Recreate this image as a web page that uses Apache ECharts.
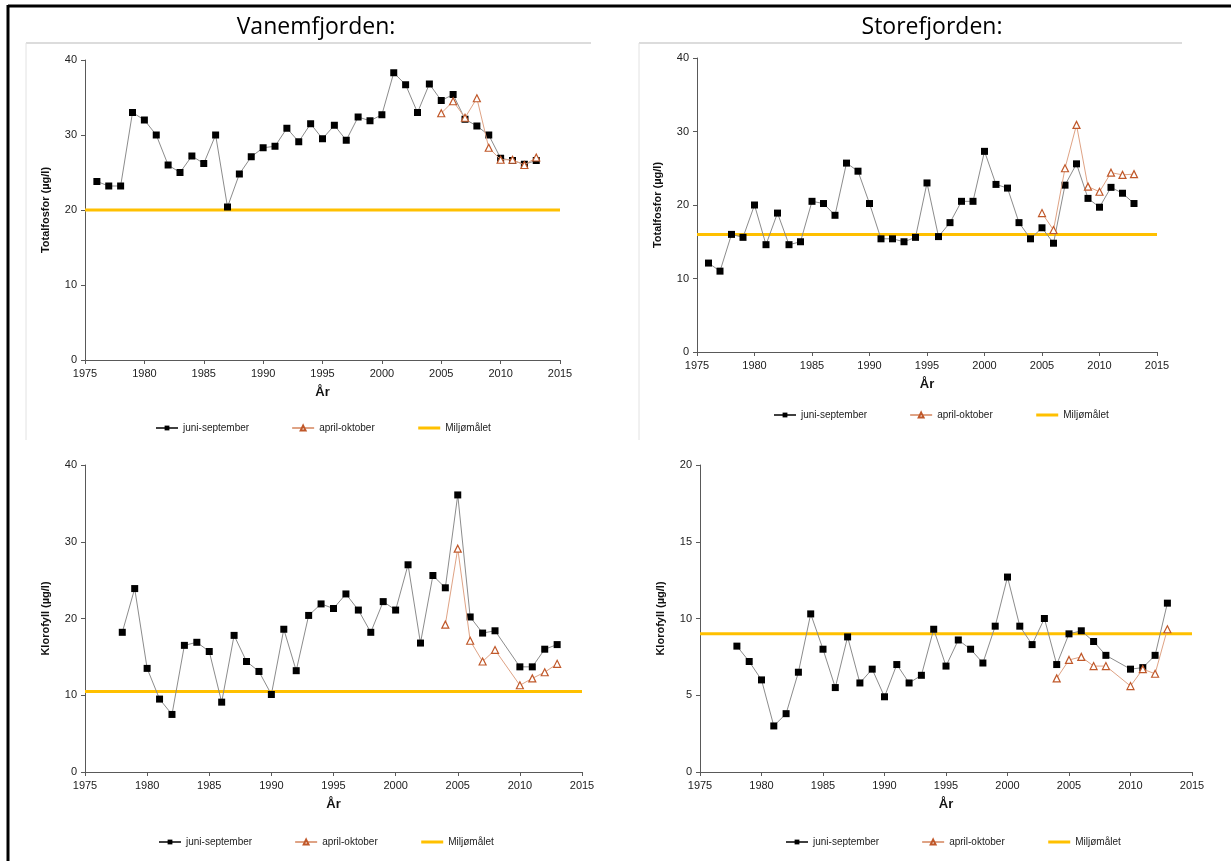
<!DOCTYPE html>
<html><head><meta charset="utf-8">
<script src="https://cdn.jsdelivr.net/npm/echarts@6/dist/echarts.min.js"></script>
<style>html,body{margin:0;padding:0;background:#fff}#c{width:1231px;height:861px}</style>
</head><body><div id="c"></div>
<script>
// ---- Data ----
const panelTitles = ['Vanemfjorden:', 'Storefjorden:'];
const seriesNames = ['juni-september', 'april-oktober', 'Miljømålet'];
const xTicks = [1975, 1980, 1985, 1990, 1995, 2000, 2005, 2010, 2015];

// Vanemfjorden totalfosfor
const vanTPYears = [1976,1977,1978,1979,1980,1981,1982,1983,1984,1985,1986,1987,1988,1989,1990,1991,1992,1993,1994,1995,1996,1997,1998,1999,2000,2001,2002,2003,2004,2005,2006,2007,2008,2009,2010,2011,2012,2013];
const vanTPJuniSep = [23.8,23.2,23.2,33.0,32.0,30.0,26.0,25.0,27.2,26.2,30.0,20.4,24.8,27.1,28.3,28.5,30.9,29.1,31.5,29.5,31.3,29.3,32.4,31.9,32.7,38.3,36.7,33.0,36.8,34.6,35.4,32.1,31.2,30.0,26.9,26.6,26.1,26.6];
const vanTPAprYears = [2005,2006,2007,2008,2009,2010,2011,2012,2013];
const vanTPAprOkt = [32.9,34.5,32.3,34.9,28.3,26.7,26.7,26.0,27.0];
const vanTPGoal = 20;

// Storefjorden totalfosfor
const stoTPYears = [1976,1977,1978,1979,1980,1981,1982,1983,1984,1985,1986,1987,1988,1989,1990,1991,1992,1993,1994,1995,1996,1997,1998,1999,2000,2001,2002,2003,2004,2005,2006,2007,2008,2009,2010,2011,2012,2013];
const stoTPJuniSep = [12.1,11.0,16.0,15.6,20.0,14.6,18.9,14.6,15.0,20.5,20.2,18.6,25.7,24.6,20.2,15.4,15.4,15.0,15.6,23.0,15.7,17.6,20.5,20.5,27.3,22.8,22.3,17.6,15.4,16.9,14.8,22.7,25.6,20.9,19.7,22.4,21.6,20.2];
const stoTPAprYears = [2005,2006,2007,2008,2009,2010,2011,2012,2013];
const stoTPAprOkt = [18.9,16.6,25.0,30.9,22.5,21.8,24.4,24.1,24.2];
const stoTPGoal = 16;

// Vanemfjorden klorofyll
const vanKlYears = [1978,1979,1980,1981,1982,1983,1984,1985,1986,1987,1988,1989,1990,1991,1992,1993,1994,1995,1996,1997,1998,1999,2000,2001,2002,2003,2004,2005,2006,2007,2008,2010,2011,2012,2013];
const vanKlJuniSep = [18.2,23.9,13.5,9.5,7.5,16.5,16.9,15.7,9.1,17.8,14.4,13.1,10.1,18.6,13.2,20.4,21.9,21.3,23.2,21.1,18.2,22.2,21.1,27.0,16.8,25.6,24.0,36.1,20.2,18.1,18.4,13.7,13.7,16.0,16.6];
const vanKlAprYears = [2004,2005,2006,2007,2008,2010,2011,2012,2013];
const vanKlAprOkt = [19.2,29.1,17.1,14.4,15.9,11.3,12.2,13.0,14.1];
const vanKlGoal = 10.5;

// Storefjorden klorofyll
const stoKlYears = [1978,1979,1980,1981,1982,1983,1984,1985,1986,1987,1988,1989,1990,1991,1992,1993,1994,1995,1996,1997,1998,1999,2000,2001,2002,2003,2004,2005,2006,2007,2008,2010,2011,2012,2013];
const stoKlJuniSep = [8.2,7.2,6.0,3.0,3.8,6.5,10.3,8.0,5.5,8.8,5.8,6.7,4.9,7.0,5.8,6.3,9.3,6.9,8.6,8.0,7.1,9.5,12.7,9.5,8.3,10.0,7.0,9.0,9.2,8.5,7.6,6.7,6.8,7.6,11.0];
const stoKlAprYears = [2004,2005,2006,2007,2008,2010,2011,2012,2013];
const stoKlAprOkt = [6.1,7.3,7.5,6.9,6.9,5.6,6.7,6.4,9.3];
const stoKlGoal = 9;

// ---- Chart ----
const FONT = "'Liberation Sans', Arial, sans-serif";
const zip = (xs, ys) => xs.map((x, i) => [x, ys[i]]);

const panels = [
  { grid: {left: 85, top: 60, width: 475, height: 300}, yName: 'Totalfosfor (µg/l)', yMax: 40, yInt: 10,
    js: zip(vanTPYears, vanTPJuniSep), ao: zip(vanTPAprYears, vanTPAprOkt), goal: vanTPGoal, legend: {left: 150, top: 418} },
  { grid: {left: 697, top: 58, width: 460, height: 294}, yName: 'Totalfosfor (µg/l)', yMax: 40, yInt: 10,
    js: zip(stoTPYears, stoTPJuniSep), ao: zip(stoTPAprYears, stoTPAprOkt), goal: stoTPGoal, legend: {left: 768, top: 405} },
  { grid: {left: 85, top: 465, width: 497, height: 307}, yName: 'Klorofyll (µg/l)', yMax: 40, yInt: 10,
    js: zip(vanKlYears, vanKlJuniSep), ao: zip(vanKlAprYears, vanKlAprOkt), goal: vanKlGoal, legend: {left: 153, top: 832} },
  { grid: {left: 700, top: 465, width: 492, height: 307}, yName: 'Klorofyll (µg/l)', yMax: 20, yInt: 5,
    js: zip(stoKlYears, stoKlJuniSep), ao: zip(stoKlAprYears, stoKlAprOkt), goal: stoKlGoal, legend: {left: 780, top: 832} }
];

const axisLineStyle = {color: '#595959', width: 1};
const option = {
  animation: false,
  backgroundColor: '#fff',
  grid: [], xAxis: [], yAxis: [], series: [], legend: [],
  graphic: []
};

panels.forEach((p, i) => {
  option.grid.push(Object.assign({containLabel: false}, p.grid));
  option.xAxis.push({
    type: 'value', gridIndex: i, min: xTicks[0], max: xTicks[xTicks.length - 1], interval: 5,
    name: 'År', nameLocation: 'middle', nameGap: 26,
    nameTextStyle: {fontFamily: FONT, fontSize: 13, fontWeight: 'bold', color: '#111'},
    axisLine: {show: true, lineStyle: axisLineStyle, onZero: false},
    axisTick: {show: true, length: 4, lineStyle: axisLineStyle},
    axisLabel: {fontFamily: FONT, fontSize: 11, color: '#222', margin: 8, formatter: v => String(v)},
    splitLine: {show: false}
  });
  option.yAxis.push({
    type: 'value', gridIndex: i, min: 0, max: p.yMax, interval: p.yInt,
    name: p.yName, nameLocation: 'middle', nameGap: 34,
    nameTextStyle: {fontFamily: FONT, fontSize: 11, fontWeight: 'bold', color: '#111'},
    axisLine: {show: true, lineStyle: axisLineStyle},
    axisTick: {show: true, length: 4, lineStyle: axisLineStyle},
    axisLabel: {fontFamily: FONT, fontSize: 11, color: '#222', margin: 8},
    splitLine: {show: false}
  });
  option.series.push({
    name: seriesNames[2], type: 'line', xAxisIndex: i, yAxisIndex: i, z: 1,
    data: [[xTicks[0], p.goal], [xTicks[xTicks.length - 1], p.goal]],
    symbol: 'none', lineStyle: {color: '#FFC000', width: 3}, itemStyle: {color: '#FFC000'}
  });
  option.series.push({
    name: seriesNames[1], type: 'line', xAxisIndex: i, yAxisIndex: i, z: 3,
    data: p.ao, symbol: 'triangle', symbolSize: 7,
    lineStyle: {color: '#DFA385', width: 1},
    itemStyle: {color: '#fff', borderColor: '#C0582A', borderWidth: 1.2}
  });
  option.series.push({
    name: seriesNames[0], type: 'line', xAxisIndex: i, yAxisIndex: i, z: 2,
    data: p.js, symbol: 'rect', symbolSize: 7,
    lineStyle: {color: '#8C8C8C', width: 1},
    itemStyle: {color: '#000'}
  });
  option.legend.push({
    left: p.legend.left, top: p.legend.top, itemWidth: 22, itemHeight: 6, itemGap: 42,
    textStyle: {fontFamily: FONT, fontSize: 10, color: '#222'},
    data: [
      {name: seriesNames[0], itemStyle: {color: '#000'}, lineStyle: {color: '#404040'}},
      {name: seriesNames[1]},
      {name: seriesNames[2], itemStyle: {opacity: 0}, lineStyle: {width: 3}}
    ],
    selectedMode: false
  });
});

const TITLE_FONT = "23px 'Open Sans', Lato, sans-serif";
option.graphic = [
  {type: 'line', shape: {x1: 8, y1: 6, x2: 1231, y2: 6}, style: {stroke: '#000', lineWidth: 3}},
  {type: 'line', shape: {x1: 8, y1: 5, x2: 8, y2: 861}, style: {stroke: '#000', lineWidth: 3}},
  {type: 'line', shape: {x1: 26, y1: 43, x2: 591, y2: 43}, style: {stroke: '#D0D0D0', lineWidth: 1.5}},
  {type: 'line', shape: {x1: 26, y1: 43, x2: 26, y2: 440}, style: {stroke: '#E2E2E2', lineWidth: 1}},
  {type: 'line', shape: {x1: 639, y1: 43, x2: 1182, y2: 43}, style: {stroke: '#D0D0D0', lineWidth: 1.5}},
  {type: 'line', shape: {x1: 639, y1: 43, x2: 639, y2: 440}, style: {stroke: '#E2E2E2', lineWidth: 1}},
  {type: 'text', x: 316, y: 27, style: {text: panelTitles[0], align: 'center', verticalAlign: 'middle', font: TITLE_FONT, fill: '#000'}},
  {type: 'text', x: 932, y: 27, style: {text: panelTitles[1], align: 'center', verticalAlign: 'middle', font: TITLE_FONT, fill: '#000'}}
];

const chart = echarts.init(document.getElementById('c'), null, {renderer: 'canvas'});
chart.setOption(option);
</script></body></html>
